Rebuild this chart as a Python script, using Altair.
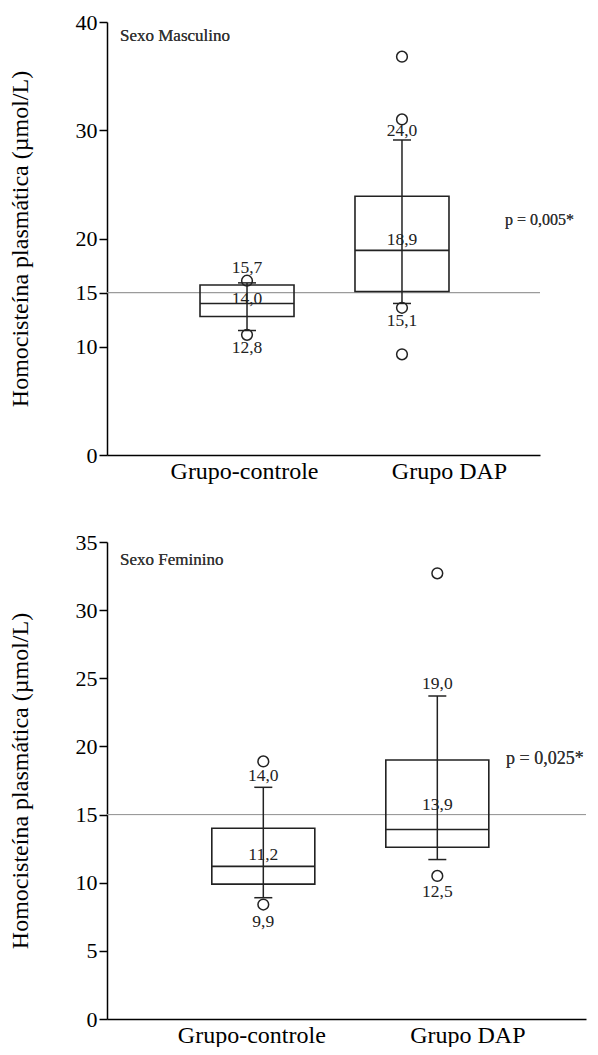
import altair as alt
import pandas as pd

groups = ["Grupo-controle", "Grupo DAP"]

# ---- Sexo Masculino ----
m_low = [11.5, 14.0]
m_q1 = [12.8, 15.1]
m_med = [14.0, 18.9]
m_q3 = [15.7, 23.9]
m_high = [15.9, 29.1]
m_out_group = ["Grupo-controle", "Grupo-controle", "Grupo DAP", "Grupo DAP", "Grupo DAP", "Grupo DAP"]
m_out_value = [16.1, 11.1, 36.8, 31.0, 13.6, 9.3]
m_lab_group = ["Grupo-controle", "Grupo-controle", "Grupo-controle", "Grupo DAP", "Grupo DAP", "Grupo DAP"]
m_lab_text = ["15,7", "14,0", "12,8", "24,0", "18,9", "15,1"]
m_lab_y = [17.3, 14.4, 9.9, 29.9, 19.9, 12.4]
m_ticks = [0, 10, 15, 20, 30, 40]

# ---- Sexo Feminino ----
f_low = [8.9, 11.7]
f_q1 = [9.9, 12.6]
f_med = [11.2, 13.9]
f_q3 = [14.0, 19.0]
f_high = [17.0, 23.7]
f_out_group = ["Grupo-controle", "Grupo-controle", "Grupo DAP", "Grupo DAP"]
f_out_value = [18.9, 8.4, 32.7, 10.5]
f_lab_group = ["Grupo-controle", "Grupo-controle", "Grupo-controle", "Grupo DAP", "Grupo DAP", "Grupo DAP"]
f_lab_text = ["14,0", "11,2", "9,9", "19,0", "13,9", "12,5"]
f_lab_y = [17.8, 12.0, 7.1, 24.6, 15.7, 9.3]
f_ticks = [0, 5, 10, 15, 20, 25, 30, 35]

REF = 15
FONT = "Liberation Serif"
INK = "#222222"
YTITLE = "Homocisteína plasmática (µmol/L)"


def panel(low, q1, med, q3, high, og, ov, lg, lt, ly, ticks, ymax,
          width, height, pad, align, boxw, offs, sex, sex_y, pval, p_y, p_x, p_size):
    box = pd.DataFrame({"grupo": groups, "low": low, "q1": q1, "med": med, "q3": q3, "high": high})
    outs = pd.DataFrame({"grupo": og, "v": ov})
    labs = pd.DataFrame({"grupo": lg, "t": lt, "y": ly})

    xaxis = alt.Axis(
        title=None, ticks=False, domainColor="black", domainWidth=1.5,
        labelFont=FONT, labelFontSize=24, labelColor="black", labelPadding=4,
        labelAngle=0,
        labelOffset={"condition": {"test": "datum.value === 'Grupo DAP'", "value": offs[1]},
                     "value": offs[0]},
    )
    x = alt.X("grupo:N", sort=groups,
              scale=alt.Scale(type="point", padding=pad, align=align), axis=xaxis)
    yscale = alt.Scale(domain=[0, ymax], nice=False, zero=True)
    yaxis = alt.Axis(
        title=YTITLE, values=ticks, grid=False, domainColor="black", domainWidth=1.5,
        tickColor="black", tickWidth=1.5, tickSize=8,
        labelFont=FONT, labelFontSize=22, labelColor="black", labelPadding=2,
        titleFont=FONT, titleFontSize=24, titleFontWeight="normal", titleColor="black",
        titlePadding=43,
    )

    ref = alt.Chart(box).mark_rule(color="#9a9a9a", strokeWidth=1).encode(
        y=alt.Y("r:Q", scale=yscale, axis=yaxis)
    ).transform_calculate(r=str(REF))

    whisk = alt.Chart(box).mark_rule(color=INK, strokeWidth=1.5, opacity=1).encode(
        x=x, y=alt.Y("low:Q", scale=yscale), y2="high:Q")
    boxes = alt.Chart(box).mark_bar(size=boxw, fill="white", fillOpacity=0,
                                    stroke=INK, strokeWidth=1.6, strokeOpacity=1).encode(
        x=x, y=alt.Y("q1:Q", scale=yscale), y2="q3:Q")
    median = alt.Chart(box).mark_tick(size=boxw, thickness=1.6, color=INK, opacity=1,
                                      orient="horizontal").encode(
        x=x, y=alt.Y("med:Q", scale=yscale))
    cap_lo = alt.Chart(box).mark_tick(size=18, thickness=1.5, color=INK, opacity=1,
                                      orient="horizontal").encode(
        x=x, y=alt.Y("low:Q", scale=yscale))
    cap_hi = alt.Chart(box).mark_tick(size=18, thickness=1.5, color=INK, opacity=1,
                                      orient="horizontal").encode(
        x=x, y=alt.Y("high:Q", scale=yscale))
    pts = alt.Chart(outs).mark_point(shape="circle", size=115, filled=False,
                                     color=INK, strokeWidth=1.5, opacity=1).encode(
        x=x, y=alt.Y("v:Q", scale=yscale))
    txt = alt.Chart(labs).mark_text(font=FONT, fontSize=17.5, color=INK,
                                    baseline="middle", align="center").encode(
        x=x, y=alt.Y("y:Q", scale=yscale), text="t:N")
    sex_t = alt.Chart(box).mark_text(font=FONT, fontSize=17, color="#333333",
                                     align="left", baseline="middle").encode(
        x=alt.value(13), y=alt.datum(sex_y), text=alt.value(sex))
    p_t = alt.Chart(box).mark_text(font=FONT, fontSize=p_size, color="#333333",
                                   align="left", baseline="middle").encode(
        x=alt.value(p_x), y=alt.datum(p_y), text=alt.value(pval))

    return alt.layer(ref, whisk, boxes, median, cap_lo, cap_hi, pts, txt, sex_t, p_t).properties(
        width=width, height=height)


top = panel(m_low, m_q1, m_med, m_q3, m_high, m_out_group, m_out_value,
            m_lab_group, m_lab_text, m_lab_y, m_ticks, 40,
            433, 433, 0.897, 0.5036, 94, (-3, 47),
            "Sexo Masculino", 38.7, "p = 0,005*", 21.7, 398, 16)
bottom = panel(f_low, f_q1, f_med, f_q3, f_high, f_out_group, f_out_value,
               f_lab_group, f_lab_text, f_lab_y, f_ticks, 35,
               479, 477, 0.8764, 0.5125, 103, (-12, 30),
               "Sexo Feminino", 33.7, "p = 0,025*", 19.1, 399, 18)

chart = alt.vconcat(top, bottom, spacing=48).properties(
    padding={"left": 0, "top": 3, "right": 0, "bottom": 0}
).configure_view(strokeWidth=0, stroke=None)

chart.save("out.html", embed_options={"renderer": "svg", "actions": False})
